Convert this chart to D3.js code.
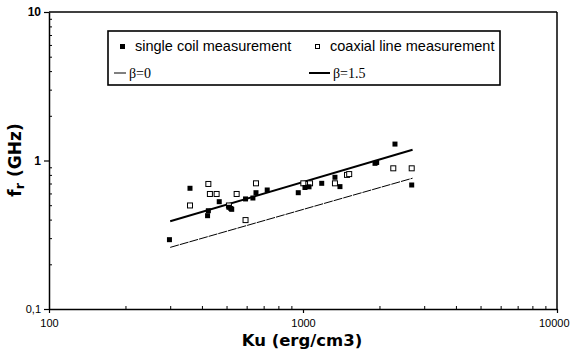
<!DOCTYPE html>
<html>
<head>
<meta charset="utf-8">
<script src="https://cdn.jsdelivr.net/npm/d3@7"></script>
<style>
  body { margin: 0; background: #fff; }
  text { font-family: "Liberation Sans", Arial, sans-serif; }
</style>
</head>
<body>
<div id="chart"></div>
<script>
// single coil measurement (filled squares)
let coilKu = [298, 359, 421, 424, 468, 511, 520, 524, 594, 635, 653, 723, 958, 1018, 1056, 1185, 1336, 1398, 1921, 1950, 2302, 2679];
let coilF = [0.293, 0.65, 0.425, 0.459, 0.528, 0.484, 0.475, 0.469, 0.551, 0.559, 0.607, 0.633, 0.607, 0.658, 0.665, 0.702, 0.771, 0.667, 0.957, 0.97, 1.29, 0.684];

// coaxial line measurement (open squares)
let coaxKu = [359, 424, 430, 457, 511, 548, 594, 653, 1003, 1066, 1336, 1490, 1520, 2267, 2679];
let coaxF = [0.498, 0.695, 0.595, 0.595, 0.498, 0.595, 0.397, 0.702, 0.702, 0.702, 0.702, 0.8, 0.81, 0.886, 0.886];

// model lines, end points
let lineKu = [300, 2700];
let beta0 = [0.26, 0.76];
let beta15 = [0.39, 1.18];

let xMinor = [200, 300, 400, 500, 600, 700, 800, 900, 2000, 3000, 4000, 5000, 6000, 7000, 8000, 9000];
let yMinor = [0.2, 0.3, 0.4, 0.5, 0.6, 0.7, 0.8, 0.9, 2, 3, 4, 5, 6, 7, 8, 9];
let xMajor = [100, 1000, 10000];
let yMajor = [0.1, 1, 10];
let xLabels = ["100", "1000", "10000"];
let yLabels = ["0,1", "1", "10"];

var W = 570, H = 355;
var m = { left: 49, top: 12, right: 13, bottom: 46 };
var pw = W - m.left - m.right, ph = H - m.top - m.bottom;

var svg = d3.select("#chart").append("svg").attr("width", W).attr("height", H);
var g = svg.append("g").attr("transform", `translate(${m.left},${m.top})`);

var x = d3.scaleLog().domain([100, 10000]).range([0, pw]);
var y = d3.scaleLog().domain([0.1, 10]).range([ph, 0]);

// frame top / right
g.append("line").attr("x1", 0).attr("x2", pw).attr("y1", 0).attr("y2", 0)
  .attr("stroke", "#000").attr("stroke-width", 1.5);
g.append("line").attr("x1", pw).attr("x2", pw).attr("y1", 0).attr("y2", ph)
  .attr("stroke", "#000").attr("stroke-width", 1.5);

// minor ticks, inward
g.append("g").attr("transform", `translate(0,${ph})`)
  .call(d3.axisBottom(x).tickValues(xMinor).tickSize(-3).tickFormat(""))
  .call(a => a.select(".domain").remove());
g.append("g")
  .call(d3.axisLeft(y).tickValues(yMinor).tickSize(-3).tickFormat(""))
  .call(a => a.select(".domain").remove());

// major axes
var xa = g.append("g").attr("transform", `translate(0,${ph})`)
  .call(d3.axisBottom(x).tickValues(xMajor).tickSizeInner(4).tickSizeOuter(0).tickPadding(6)
    .tickFormat((d, i) => xLabels[i]));
var ya = g.append("g")
  .call(d3.axisLeft(y).tickValues(yMajor).tickSizeInner(5).tickSizeOuter(0).tickPadding(3)
    .tickFormat((d, i) => yLabels[i]));
[xa, ya].forEach(a => {
  a.select(".domain").attr("stroke-width", 1.5);
  a.selectAll(".tick line").attr("stroke-width", 1.2);
  a.selectAll(".tick text").attr("fill", "#000").style("font-size", "11px")
    .style("font-family", "'Liberation Sans', Arial, sans-serif");
});
ya.selectAll(".tick text").filter(d => d >= 1).style("font-weight", "700").style("font-size", "12px");
// last label sits at the window edge, keep it inside
xa.selectAll(".tick text").filter(d => d === 10000).attr("text-anchor", "end").attr("x", 12);
g.selectAll(".tick line").attr("stroke", "#000");

// model lines
var lineGen = d3.line().x(d => x(d[0])).y(d => y(d[1]));
g.append("path").datum(lineKu.map((k, i) => [k, beta0[i]]))
  .attr("d", lineGen).attr("fill", "none").attr("stroke", "#000").attr("stroke-width", 1)
  .attr("stroke-dasharray", "9,1");
g.append("path").datum(lineKu.map((k, i) => [k, beta15[i]]))
  .attr("d", lineGen).attr("fill", "none").attr("stroke", "#000").attr("stroke-width", 2);

// points
var s = 5;
g.selectAll(".coax").data(coaxKu).enter().append("rect")
  .attr("x", (d, i) => x(d) - s / 2).attr("y", (d, i) => y(coaxF[i]) - s / 2)
  .attr("width", s).attr("height", s)
  .attr("fill", "#fff").attr("stroke", "#000").attr("stroke-width", 1);
g.selectAll(".coil").data(coilKu).enter().append("rect")
  .attr("x", (d, i) => x(d) - s / 2).attr("y", (d, i) => y(coilF[i]) - s / 2)
  .attr("width", s).attr("height", s).attr("fill", "#000");

// legend
var lg = svg.append("g");
lg.append("rect").attr("x", 108).attr("y", 31).attr("width", 392).attr("height", 54)
  .attr("fill", "#fff").attr("stroke", "#000").attr("stroke-width", 1.6);
lg.append("rect").attr("x", 120).attr("y", 44).attr("width", 5).attr("height", 5).attr("fill", "#000");
lg.append("text").attr("x", 135).attr("y", 51).text("single coil measurement").style("font-size", "14.5px");
lg.append("rect").attr("x", 315.5).attr("y", 44.5).attr("width", 4).attr("height", 4)
  .attr("fill", "#fff").attr("stroke", "#000").attr("stroke-width", 1);
lg.append("text").attr("x", 330).attr("y", 51).text("coaxial line measurement").style("font-size", "14.5px");
lg.append("line").attr("x1", 114).attr("x2", 126).attr("y1", 73).attr("y2", 73)
  .attr("stroke", "#000").attr("stroke-width", 1);
lg.append("text").attr("x", 129).attr("y", 78).text("β=0")
  .style("font-family", "'Liberation Serif', 'Times New Roman', serif").style("font-size", "14px");
lg.append("line").attr("x1", 309).attr("x2", 330).attr("y1", 73).attr("y2", 73)
  .attr("stroke", "#000").attr("stroke-width", 2);
lg.append("text").attr("x", 333).attr("y", 78).text("β=1.5")
  .style("font-family", "'Liberation Serif', 'Times New Roman', serif").style("font-size", "14px");

// axis titles
svg.append("text").attr("x", m.left + pw / 2 - 1).attr("y", 346).attr("text-anchor", "middle")
  .style("font-family", "'DejaVu Sans', Verdana, sans-serif").style("font-weight", "700").style("font-size", "16.5px")
  .text("Ku (erg/cm3)");
var yt = svg.append("text").attr("transform", "translate(21,160) rotate(-90)").attr("text-anchor", "middle")
  .style("font-family", "'DejaVu Sans', Verdana, sans-serif").style("font-weight", "700").style("font-size", "17px");
yt.append("tspan").text("f");
yt.append("tspan").text("r").style("font-size", "13px").attr("dy", 3);
yt.append("tspan").text(" (GHz)").attr("dy", -3);
</script>
</body>
</html>
